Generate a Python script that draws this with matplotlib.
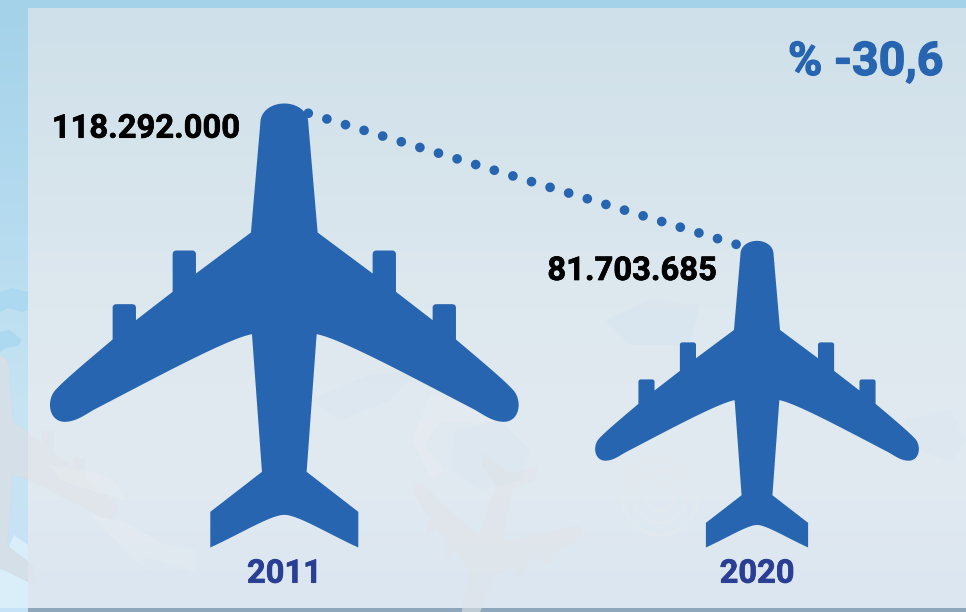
import numpy as np
import matplotlib
matplotlib.use("Agg")
import matplotlib.pyplot as plt
import matplotlib.patheffects as pe
from matplotlib.patches import Polygon, Rectangle, Circle
from matplotlib.colors import LinearSegmentedColormap

# Passenger totals per year
years = ["2011", "2020"]
passengers = [118292000, 81703685]
value_labels = ["118.292.000", "81.703.685"]
change_label = "% -30,6"

BLUE = "#2765b0"
NAVY = "#2a3f93"
W, H = 966, 612
BASE_PX = 547.5          # pixel row of the value-axis zero
PX_PER_VALUE = 444.0 / passengers[0]
PX_PER_CAT = 472.7       # pixels between category centres
FIRST_CAT_PX = 284.3


def bez(p0, p1, p2, p3, n=24):
    t = np.linspace(0, 1, n)[:, None]
    p0, p1, p2, p3 = map(np.asarray, (p0, p1, p2, p3))
    return (1-t)**3*p0 + 3*(1-t)**2*t*p1 + 3*(1-t)*t**2*p2 + t**3*p3


def plane_outline():
    """Aircraft silhouette, normalised to height 1 with its tail at v=0."""
    half = np.vstack([
        bez((0, 40), (35, 40), (72, 60), (72, 100)),
        [(100, 427), (265, 550), (265, 492)],
        bez((265, 492), (265, 485), (270, 481), (277, 481), 8),
        [(323, 481)],
        bez((323, 481), (330, 481), (335, 485), (335, 492), 8),
        [(335, 605), (445, 690), (445, 652)],
        bez((445, 652), (445, 646), (450, 642), (456, 642), 8),
        [(504, 642)],
        bez((504, 642), (510, 642), (515, 646), (515, 652), 8),
        [(515, 748)],
        bez((515, 748), (600, 820), (660, 870), (687, 900)),
        bez((687, 900), (714, 930), (708, 993), (660, 995)),
        bez((660, 995), (625, 995), (600, 975), (570, 958)),
        bez((570, 958), (400, 870), (170, 745), (97, 732), 40),
        [(67, 1145), (222, 1265), (222, 1372)],
        bez((222, 1372), (130, 1330), (40, 1274), (0, 1274)),
    ], dtype=float)
    left = half[::-1] * [-1, 1]
    pts = np.vstack([half, left])
    return np.column_stack([pts[:, 0] / 1332, (1372 - pts[:, 1]) / 1332])


OUTLINE = plane_outline()

fig = plt.figure(figsize=(W / 100, H / 100), dpi=100)

# Backdrop: page gradient, inset panel, faint map and aircraft motifs
bg = fig.add_axes([0, 0, 1, 1], zorder=0)
bg.axis("off")


def vgrad(stops):
    return LinearSegmentedColormap.from_list("g", stops)


page = np.linspace(0, 1, 256)[:, None]
bg.imshow(page, extent=[0, W, H, 0], aspect="auto", zorder=0,
          cmap=vgrad(["#a3d2e9", "#b4daef", "#c6e4f2", "#c6e2f6"]))

# Islands and a ghost aircraft on the page margin
for pts, col in [
    ([(0, 292), (12, 288), (28, 292), (44, 296), (40, 306), (22, 312), (8, 308), (0, 312)], "#acd8f0"),
    ([(0, 332), (10, 330), (22, 340), (18, 346), (6, 348), (0, 352)], "#acd8f0"),
    ([(0, 566), (14, 535), (28, 545), (28, 612), (0, 612)], "#d9eef8"),
]:
    bg.add_patch(Polygon(pts, closed=True, fc=col, ec="none", zorder=1))


def ghost(cx, cy, size, angle, color, alpha, z):
    a = np.deg2rad(angle)
    p = (OUTLINE - [0, 0.5]) * size * [1, -1]
    rot = np.array([[np.cos(a), -np.sin(a)], [np.sin(a), np.cos(a)]])
    bg.add_patch(Polygon(p @ rot.T + [cx, cy], closed=True, fc=color, ec="none",
                         alpha=alpha, zorder=z))


ghost(-4, 470, 230, 0, "#bcd2e1", 0.85, 1)

# Inset panel
bg.add_patch(Rectangle((0, 608), W, 4, fc="#8fa7ba", ec="none", zorder=2))
bg.add_patch(Rectangle((0, 608), 28, 4, fc="#c6e2f6", ec="none", zorder=2))
bg.imshow(page, extent=[28, W, 608, 8], aspect="auto", zorder=3,
          cmap=vgrad(["#cfe0ea", "#d6e4ec", "#dee8ef", "#e2eaf1", "#dbe6f0"]))
bg.set_xlim(0, W)
bg.set_ylim(H, 0)
ghost(-4, 470, 230, 0, "#dfe4e9", 0.7, 4)

# Faint map shapes inside the panel
land = [
    [(90, 515), (125, 522), (165, 545), (195, 548), (195, 572), (150, 558), (140, 560), (150, 570), (135, 560), (110, 535)],
    [(50, 465), (85, 470), (115, 480), (125, 500), (95, 492), (60, 480)],
    [(430, 395), (470, 405), (510, 430), (500, 440), (470, 422), (440, 422), (425, 445), (445, 470), (430, 478), (412, 440)],
]
for pts in land:
    bg.add_patch(Polygon(pts, closed=True, fc="#e8edf0", ec="none", alpha=0.45, zorder=4))
water = [
    [(310, 400), (370, 375), (420, 370), (390, 400), (340, 420)],
    [(605, 320), (650, 300), (700, 305), (690, 345), (630, 345)],
    [(455, 430), (500, 420), (530, 450), (520, 480), (480, 490), (450, 470)],
    [(905, 420), (950, 410), (966, 440), (950, 462), (920, 450)],
]
for pts in water:
    bg.add_patch(Polygon(pts, closed=True, fc="#d6e4ef", ec="none", alpha=0.4, zorder=4))
for r in (14, 26, 38):
    bg.add_patch(Circle((660, 497), r, fc="none", ec="#e4eaee", lw=2.5, alpha=0.6, zorder=4))
ghost(490, 540, 165, 195, "#e0e4e8", 0.6, 5)

# Pictogram axes: zero at the tails, y in passengers, x in category slots
ax = fig.add_axes([0, 0, 1, 1], zorder=1)
ax.patch.set_alpha(0)
ax.axis("off")
ax.set_xlim(-FIRST_CAT_PX / PX_PER_CAT, (W - FIRST_CAT_PX) / PX_PER_CAT)
ax.set_ylim(-(H - BASE_PX) / PX_PER_VALUE, BASE_PX / PX_PER_VALUE)


def heavy(color, width):
    return [pe.withStroke(linewidth=width, foreground=color)]


x_per_value = PX_PER_VALUE / PX_PER_CAT   # keeps each plane's proportions
for i, value in enumerate(passengers):
    xy = np.column_stack([i + OUTLINE[:, 0] * value * x_per_value,
                          OUTLINE[:, 1] * value])
    ax.add_patch(Polygon(xy, closed=True, fc=BLUE, ec="none", zorder=3))
    ax.text(i, -(582.7 - BASE_PX) / PX_PER_VALUE, years[i], color=NAVY, family="Roboto",
            weight="bold", fontsize=23.5, ha="center", va="baseline",
            path_effects=heavy(NAVY, 0.5))

# Dotted link between the two noses
ax.plot([0 + 0.054 * passengers[0] * x_per_value, 1 - 0.066 * passengers[1] * x_per_value],
        [0.978 * passengers[0], 0.988 * passengers[1]],
        color=BLUE, lw=7.0, linestyle=(0, (0.001, 2.0)), dash_capstyle="round", zorder=4)

label_kw = dict(color="black", family="Roboto", weight="bold", fontsize=23.6,
                ha="right", va="baseline", path_effects=heavy("black", 0.5))
ax.text((239.5 - FIRST_CAT_PX) / PX_PER_CAT, (BASE_PX - 137.7) / PX_PER_VALUE,
        value_labels[0], **label_kw)
ax.text((716.5 - FIRST_CAT_PX) / PX_PER_CAT, (BASE_PX - 280) / PX_PER_VALUE,
        value_labels[1], **label_kw)
ax.text((943 - FIRST_CAT_PX) / PX_PER_CAT, (BASE_PX - 75) / PX_PER_VALUE,
        change_label, color=BLUE, family="Roboto", weight="bold", fontsize=33.5,
        ha="right", va="baseline", path_effects=heavy(BLUE, 0.9))

fig.savefig("out.png", dpi=100)
